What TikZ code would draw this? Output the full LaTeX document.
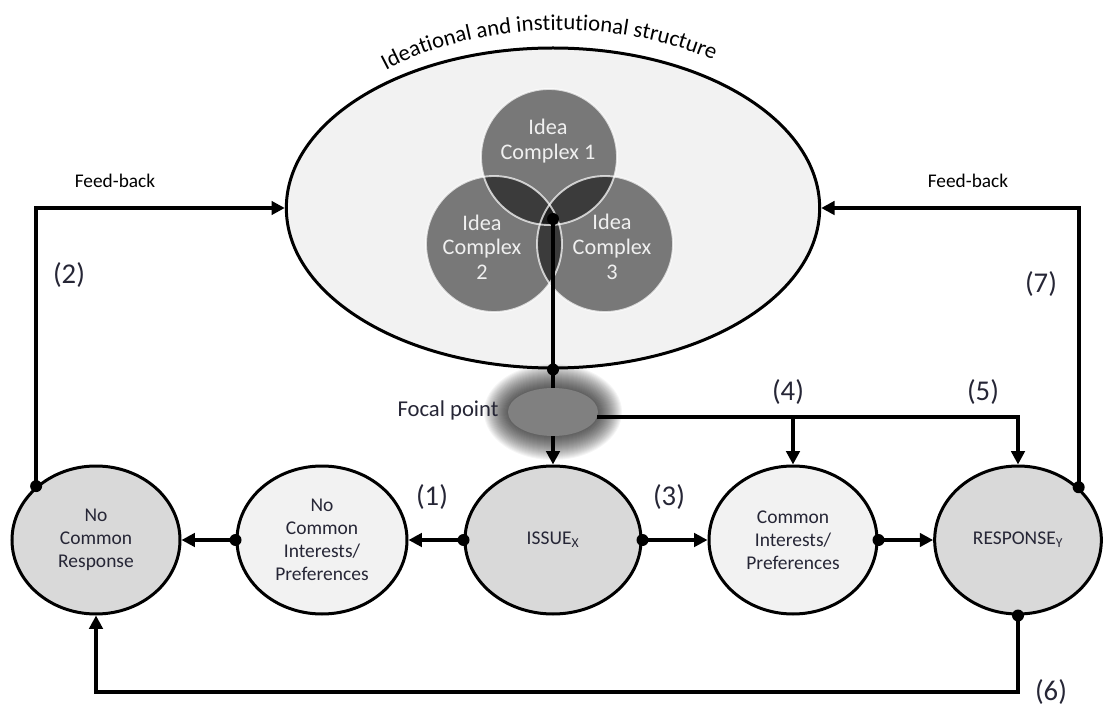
\documentclass[tikz,border=0pt]{standalone}
\usepackage{fontspec}
\setmainfont{Carlito}
\usetikzlibrary{shapes.geometric,arrows.meta,decorations.text}
\definecolor{lightfill}{HTML}{F2F2F2}
\definecolor{midfill}{HTML}{D9D9D9}
\definecolor{focalgray}{HTML}{808080}
\definecolor{ink}{HTML}{262636}
\newcommand\arcfont{\fontsize{17}{19}\selectfont}

\begin{document}
\begin{tikzpicture}[x=0.75pt,y=0.75pt,
  stage/.style={ellipse, draw=black, line width=2.25pt, minimum height=111pt,
    align=center, text=ink, font=\fontsize{14.6}{17.4}\selectfont, inner sep=0pt},
  conn/.style={line width=3pt},
  arr/.style={conn, -{Triangle[length=10pt,width=10pt]}},
  numlab/.style={text=ink, font=\fontsize{21.5}{24}\selectfont},
  fblab/.style={text=black, font=\fontsize{14.5}{17}\selectfont},
  idea/.style={circle, minimum size=102pt, inner sep=0pt, fill=black, fill opacity=0.5},
  ideatext/.style={align=center, text=white!94!black, font=\fontsize{16.7}{18.5}\selectfont}
]
\useasboundingbox (0,0) rectangle (1103,-709);

% ideational structure with the three idea complexes
\node[ellipse, draw=black, line width=2.25pt, fill=lightfill, minimum width=400pt,
      minimum height=240pt, inner sep=0pt] (big) at (553,-208) {};
\coordinate (arcc) at (560,-208);
\path[decorate, decoration={text along path, text align=center, text color=black,
      text={|\arcfont|Ideational and institutional structure}}]
  ([shift={(145:275 and 178)}]arcc) arc[start angle=145, end angle=41, x radius=275, y radius=178];

\node[idea] (c1) at (549,-157) {};
\node[idea] (c2) at (494,-244) {};
\node[idea] (c3) at (605,-244) {};
\foreach \c in {c1,c2,c3}
  \draw[white, line width=1.4pt, opacity=0.72] (\c.center) circle (51pt);
\node[ideatext] (t1) at (548,-141) {Idea\\Complex 1};
\node[ideatext] (t2) at (482,-247) {Idea\\Complex\\2};
\node[ideatext] (t3) at (612,-247) {Idea\\Complex\\3};
\coordinate (core) at (553,-219);

% focal point with its soft halo
\coordinate (fc) at (553,-412);
\foreach \i in {1,...,24}
  \fill[black, opacity=0.038] (fc) ellipse [x radius={45+\i}, y radius={24+\i}];
\node[ellipse, fill=focalgray, minimum width=67.5pt, minimum height=36pt, inner sep=0pt] (focal) at (fc) {};
\node[text=ink, font=\fontsize{17}{19}\selectfont] (fplab) at (448,-410) {Focal point};

% stages along the bottom row
\node[stage, fill=midfill, minimum width=126pt] (ncr) at (96,-540) {No\\Common\\Response};
\node[stage, fill=lightfill, minimum width=127.5pt] (nci) at (322,-540) {No\\Common\\Interests/\\Preferences};
\node[stage, fill=midfill, minimum width=132pt] (issue) at (553,-540) {ISSUE\textsubscript{X}};
\node[stage, fill=lightfill, minimum width=126pt] (ci) at (793,-540) {Common\\Interests/\\Preferences};
\node[stage, fill=midfill, minimum width=125pt] (resp) at (1018,-540) {RESPONSE\textsubscript{Y}};
\coordinate (bot) at (0,-692);

% connectors
\draw[conn] (core) -- (big.south) -- (focal.north);
\draw[arr] (focal.south) -- (issue.north);
\draw[arr] (focal.-7) -| (resp.north);
\draw[arr] (focal.-7 -| ci.north) -- (ci.north);
\draw[arr] (issue.west) -- (nci.east);
\draw[arr] (nci.west) -- (ncr.east);
\draw[arr] (issue.east) -- (ci.west);
\draw[arr] (ci.east) -- (resp.west);
\draw[arr] (ncr.138) |- (big.west);
\draw[arr] (resp.41) |- (big.east);
\draw[arr] (resp.south) -- (resp.south |- bot) -| (ncr.south);

% junction dots
\foreach \p in {core, big.south, issue.west, nci.west, issue.east, ci.east, ncr.138, resp.41, resp.south}
  \fill[black] (\p) circle (4.5pt);

% labels
\node[fblab] (fbl) at (115,-181) {Feed-back};
\node[fblab] (fbr) at (968,-181) {Feed-back};
\node[numlab] (n1) at (432,-497) {(1)};
\node[numlab] (n2) at (69,-275) {(2)};
\node[numlab] (n3) at (669,-497) {(3)};
\node[numlab] (n4) at (788,-392) {(4)};
\node[numlab] (n5) at (983,-392) {(5)};
\node[numlab] (n6) at (1051,-692) {(6)};
\node[numlab] (n7) at (1041,-284) {(7)};
\end{tikzpicture}
\end{document}
